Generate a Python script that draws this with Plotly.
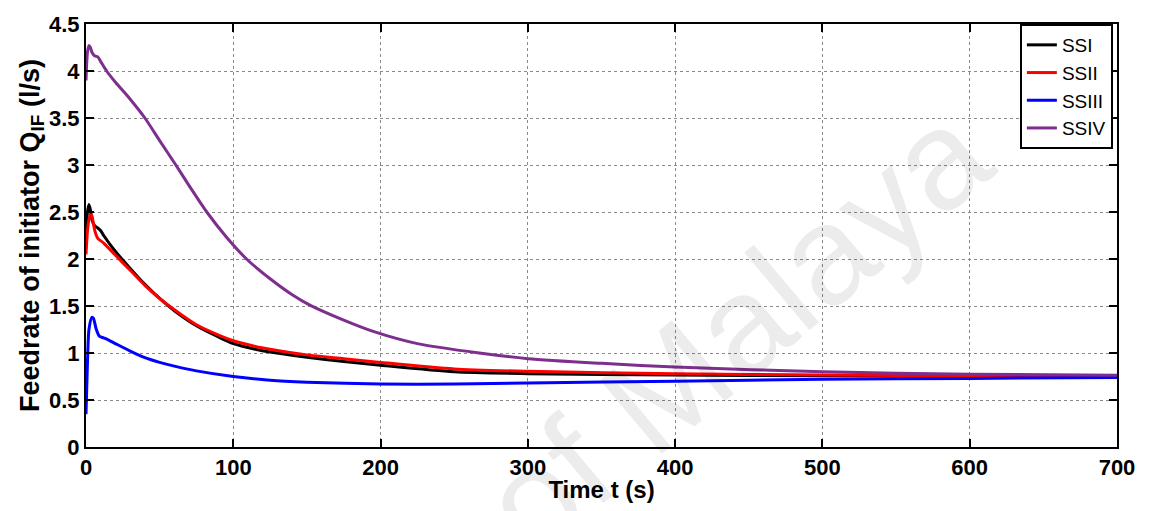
import plotly.graph_objects as go

# Time (s) and feedrate (l/s)
t_ssi = [0, 1, 2, 3, 4, 6, 8, 10, 12, 20, 30, 40, 50, 60, 75, 90, 100, 115, 125, 150, 175, 200, 250, 300, 400, 500, 600, 700]
q_ssi = [2.3, 2.5, 2.58, 2.52, 2.42, 2.35, 2.33, 2.3, 2.25, 2.08, 1.9, 1.73, 1.58, 1.45, 1.29, 1.17, 1.10, 1.04, 1.01, 0.955, 0.91, 0.87, 0.80, 0.78, 0.765, 0.757, 0.752, 0.75]

t_ssii = [0, 1, 2, 3, 4, 5, 6, 8, 12, 20, 30, 40, 50, 60, 75, 90, 100, 115, 125, 150, 175, 200, 250, 300, 400, 500, 600, 700]
q_ssii = [2.05, 2.3, 2.42, 2.47, 2.46, 2.38, 2.3, 2.22, 2.17, 2.04, 1.88, 1.72, 1.58, 1.46, 1.30, 1.19, 1.13, 1.07, 1.04, 0.98, 0.94, 0.90, 0.83, 0.805, 0.78, 0.765, 0.757, 0.755]

t_ssiii = [0, 1, 2, 4, 5, 7, 9, 12, 15, 20, 30, 40, 50, 60, 75, 100, 125, 150, 200, 250, 300, 400, 500, 600, 700]
q_ssiii = [0.35, 0.9, 1.25, 1.38, 1.37, 1.25, 1.18, 1.16, 1.14, 1.10, 1.02, 0.95, 0.90, 0.86, 0.81, 0.75, 0.71, 0.69, 0.67, 0.67, 0.68, 0.70, 0.72, 0.73, 0.74]

t_ssiv = [0, 1, 2, 3, 4, 6, 8, 10, 14, 20, 30, 40, 50, 61, 70, 82, 95, 109, 125, 140, 152, 175, 195, 225, 267, 300, 350, 400, 500, 600, 700]
q_ssiv = [3.9, 4.2, 4.27, 4.25, 4.2, 4.16, 4.15, 4.1, 4.0, 3.88, 3.7, 3.5, 3.26, 3.0, 2.78, 2.5, 2.24, 2.0, 1.79, 1.62, 1.51, 1.35, 1.23, 1.10, 1.0, 0.94, 0.89, 0.85, 0.80, 0.775, 0.764]

series_names = ["SSI", "SSII", "SSIII", "SSIV"]
series_colors = ["#000000", "#ff0000", "#0000ff", "#7e2f8e"]

x_ticks = [0, 100, 200, 300, 400, 500, 600, 700]
y_ticks = [0, 0.5, 1, 1.5, 2, 2.5, 3, 3.5, 4, 4.5]

FONT = "Liberation Sans, Arial, sans-serif"

fig = go.Figure()
for name, color, tx, qy in zip(series_names, series_colors,
                               [t_ssi, t_ssii, t_ssiii, t_ssiv],
                               [q_ssi, q_ssii, q_ssiii, q_ssiv]):
    fig.add_trace(go.Scatter(x=tx, y=qy, mode="lines", name=name,
                             line=dict(color=color, width=3, shape="spline", smoothing=0.7)))

axis_common = dict(
    showline=True, linecolor="black", linewidth=2, mirror="ticks",
    ticks="inside", ticklen=8, tickwidth=1.5, tickcolor="black",
    showgrid=True, gridcolor="#8a8a8a", gridwidth=1, griddash="dot",
    zeroline=False,
    tickfont=dict(family=FONT, size=22, color="black", weight="bold"),
)

fig.update_xaxes(range=[0, 700], tickvals=x_ticks, **axis_common,
                 title=dict(text="<b>Time t (s)</b>", standoff=2,
                            font=dict(family=FONT, size=24, color="black")))
fig.update_yaxes(range=[0, 4.5], tickvals=y_ticks, **axis_common,
                 title=dict(text="<b>Feedrate of initiator Q<sub>IF</sub> (l/s)</b>", standoff=2,
                            font=dict(family=FONT, size=27, color="black")))

fig.add_annotation(text="of Malaya", xref="paper", yref="paper",
                   x=(735 - 86) / 1031, y=(450 - 330) / 432,
                   xanchor="center", yanchor="middle",
                   showarrow=False, textangle=-40,
                   font=dict(family=FONT, size=140, color="rgba(0,0,0,0.075)"))

fig.update_layout(
    width=1152, height=511,
    margin=dict(l=86, r=35, t=18, b=61),
    paper_bgcolor="white", plot_bgcolor="white",
    showlegend=True,
    legend=dict(x=0.996, y=1.0, xanchor="right", yanchor="top",
                bgcolor="white", bordercolor="black", borderwidth=2,
                font=dict(family=FONT, size=19, color="black"),
                itemwidth=30, tracegroupgap=0),
    font=dict(family=FONT),
)

fig.write_html("out.html")
